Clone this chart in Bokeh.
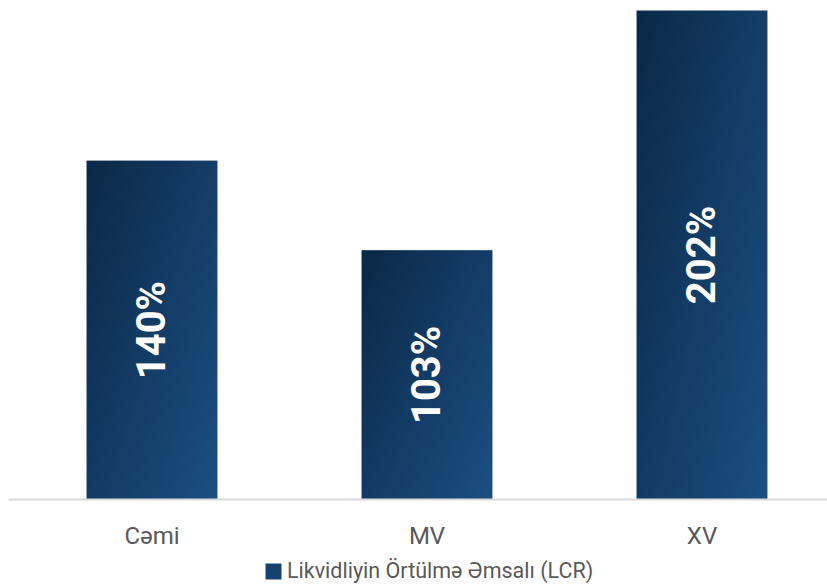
import numpy as np
from bokeh.plotting import figure
from bokeh.models import ColumnDataSource, Range1d, Legend, LegendItem, Span
from bokeh.embed import file_html
from bokeh.resources import INLINE
from bokeh.core.properties import value

categories = ["Cəmi", "MV", "XV"]
lcr_values = [140, 103, 202]
value_labels = ["140%", "103%", "202%"]
series_name = "Likvidliyin Örtülmə Əmsalı (LCR)"

BAR_W = 0.476
C0 = np.array([11, 40, 71], dtype=float)
C1 = np.array([27, 79, 131], dtype=float)

xs = list(range(len(categories)))

p = figure(
    frame_width=819, frame_height=576,
    x_range=Range1d(-0.5218, 2.4564), y_range=Range1d(-35.11, 202.83),
    x_axis_location=None, y_axis_location=None,
    output_backend="svg", toolbar_location=None,
    min_border_left=8, min_border_right=0, min_border_top=8, min_border_bottom=0,
    background_fill_color="white", border_fill_color="white",
)
p.outline_line_color = None
p.xgrid.visible = False
p.ygrid.visible = False

# gradient-filled bars, drawn as images sized by the data
NXP, NYP = 128, 256
fx = (np.arange(NXP) + 0.5) / NXP
fy_top = 1 - (np.arange(NYP) + 0.5) / NYP
tt = 0.55 * fx[None, :] + 0.45 * fy_top[:, None]
rgb = C0[None, None, :] + (C1 - C0)[None, None, :] * tt[:, :, None]
img = np.zeros((NYP, NXP), dtype=np.uint32)
view = img.view(dtype=np.uint8).reshape((NYP, NXP, 4))
view[:, :, 0:3] = np.round(rgb).astype(np.uint8)
view[:, :, 3] = 255

p.image_rgba(image=[img] * len(xs), x=[i - BAR_W / 2 for i in xs], y=[0] * len(xs),
             dw=[BAR_W] * len(xs), dh=lcr_values)

# baseline (category axis line)
p.add_layout(Span(location=0, dimension="width", line_color="#d9d9d9", line_width=2))

# value labels inside the bars
lab_src = ColumnDataSource(dict(x=xs, y=[v / 2 for v in lcr_values], t=value_labels))
p.text(x="x", y="y", text="t", source=lab_src, angle=1.5708,
       text_align="center", text_baseline="middle",
       text_font=value("Roboto"), text_font_style="bold",
       text_font_size="40px", text_color="white")

# category labels under the baseline
cat_src = ColumnDataSource(dict(x=xs, y=[0] * len(xs), t=categories))
p.text(x="x", y="y", text="t", source=cat_src, y_offset=36,
       text_align="center", text_baseline="middle",
       text_font=value("Roboto"), text_font_size="24px", text_color="#595959")

# legend proxy: zero-height bar (invisible in plot, gives the legend swatch)
proxy = p.vbar(x=[xs[0]], top=[0], bottom=[0], width=0.0001,
               fill_color="#164270", line_color=None)

legend = Legend(items=[LegendItem(label=series_name, renderers=[proxy], index=0)],
                location=(255, 1), orientation="horizontal",
                label_text_font="Roboto", label_text_font_size="21.5px",
                label_text_color="#595959", glyph_width=20, glyph_height=20,
                label_height=20, label_standoff=4, padding=0, margin=0, spacing=0,
                border_line_color=None, background_fill_alpha=0)
p.add_layout(legend, "center")

open("out.html", "w").write(file_html(p, INLINE))
